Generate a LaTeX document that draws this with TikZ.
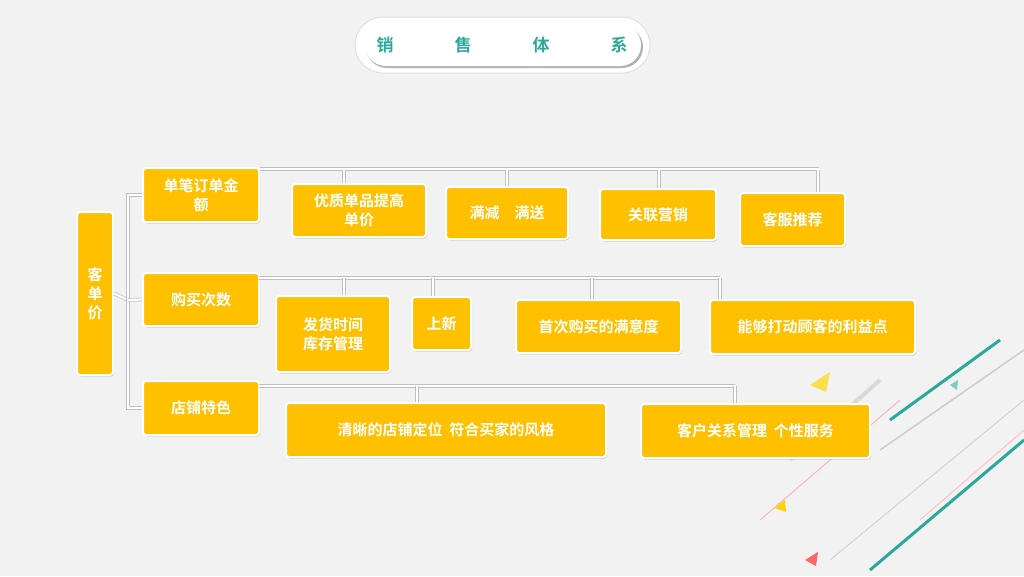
\documentclass[tikz,border=0pt]{standalone}
\usepackage{fontspec}
\newfontfamily\cjk{Noto Sans CJK SC}[BoldFont={* Bold}]
\usetikzlibrary{shadows}
\definecolor{bg}{HTML}{F2F2F2}
\definecolor{gold}{HTML}{FFC000}
\definecolor{teal}{HTML}{2AA89A}
\begin{document}
\begin{tikzpicture}[x=1pt,y=-1pt,
 box/.style={draw=white,line width=2pt,fill=gold,rounded corners=3pt,
   drop shadow={shadow xshift=1pt,shadow yshift=-1.5pt,opacity=0.35},
   text=white,font=\cjk\bfseries\fontsize{15}{19}\selectfont,align=center,inner sep=0pt},
 link/.style={draw=white,line width=2.2pt,
   preaction={draw=black!25,line width=3.6pt}}]
\useasboundingbox (0,0) rectangle (1024,576);
\fill[bg] (0,0) rectangle (1024,576);
% title
\fill[white,draw=black!12,line width=1pt,rounded corners=28pt] (355,17) rectangle (650,73);
\fill[black!30,rounded corners=21pt] (366,26) rectangle (643,68);
\fill[white,rounded corners=21pt] (365,24) rectangle (641,66);
\foreach \t/\x in {销/385,售/463,体/541,系/619}
  \node[text=teal,font=\cjk\bfseries\fontsize{17}{20}\selectfont] at (\x,45) {\t};
% decoration
\foreach \a/\b/\c/\w in {{(890,420)}/{(1000,340)}/teal/3,{(880,450)}/{(1024,350)}/gray!40/1.5,{(870,570)}/{(1024,440)}/teal/3,{(760,520)}/{(900,400)}/red!30/1,{(830,560)}/{(1024,400)}/gray!35/1,{(790,460)}/{(880,380)}/gray!30/4,{(920,520)}/{(1024,430)}/pink/1}
  \draw[\c,line width=\w pt] \a -- \b;
\fill[yellow!70!orange] (775,508) -- (785,500) -- (786,512) -- cycle;
\fill[red!60] (805,560) -- (818,552) -- (816,566) -- cycle;
\fill[yellow!70!orange!70] (810,385) -- (830,372) -- (826,392) -- cycle;
\fill[teal!60] (950,385) -- (958,380) -- (957,390) -- cycle;
% nodes
\node[box,minimum width=36pt,minimum height=163pt] (k) at (95,293.5) {客\\单\\价};
\node[box,minimum width=116pt,minimum height=54pt] (a) at (201,195) {单笔订单金\\额};
\node[box,minimum width=134pt,minimum height=53pt] (a1) at (359,210.5) {优质单品提高\\单价};
\node[box,minimum width=122pt,minimum height=52pt] (a2) at (507,213) {满减\quad 满送};
\node[box,minimum width=116pt,minimum height=51pt] (a3) at (658,214.5) {关联营销};
\node[box,minimum width=105pt,minimum height=53pt] (a4) at (792.5,219.5) {客服推荐};
\node[box,minimum width=116pt,minimum height=53pt] (b) at (201,299.5) {购买次数};
\node[box,minimum width=114pt,minimum height=76pt] (b1) at (333,334) {发货时间\\库存管理};
\node[box,minimum width=59pt,minimum height=53pt] (b2) at (441.5,323.5) {上新};
\node[box,minimum width=165pt,minimum height=53pt] (b3) at (598.5,326.5) {首次购买的满意度};
\node[box,minimum width=205pt,minimum height=54pt] (b4) at (812.5,327) {能够打动顾客的利益点};
\node[box,minimum width=116pt,minimum height=54pt] (c) at (201,408) {店铺特色};
\node[box,minimum width=320pt,minimum height=54pt] (c1) at (446,430) {清晰的店铺定位\ \ 符合买家的风格};
\node[box,minimum width=229pt,minimum height=54pt] (c2) at (755.5,431) {客户关系管理\ \ 个性服务};
% connectors
\begin{scope}[on background layer/.try]
\end{scope}
\coordinate (j) at (128,300);
\draw[link] (k.east) -- (j);
\draw[link] (a.west) -| (j) |- (c.west);
\draw[link] (j) -- (b.west);
\draw[link] (a.north east) ++(0,2) -- ++(559,0);
\foreach \n/\x in {a1/344,a2/507,a3/659,a4/818} \draw[link] (\x,170) -- (\x,0 |- \n.north);
\draw[link] (259,278) -- (720,278);
\foreach \n/\x in {b1/344,b2/433,b3/592,b4/720} \draw[link] (\x,278) -- (\x,0 |- \n.north);
\draw[link] (259,386) -- (735,386);
\foreach \n/\x in {c1/417,c2/735} \draw[link] (\x,386) -- (\x,0 |- \n.north);
\end{tikzpicture}
\end{document}
